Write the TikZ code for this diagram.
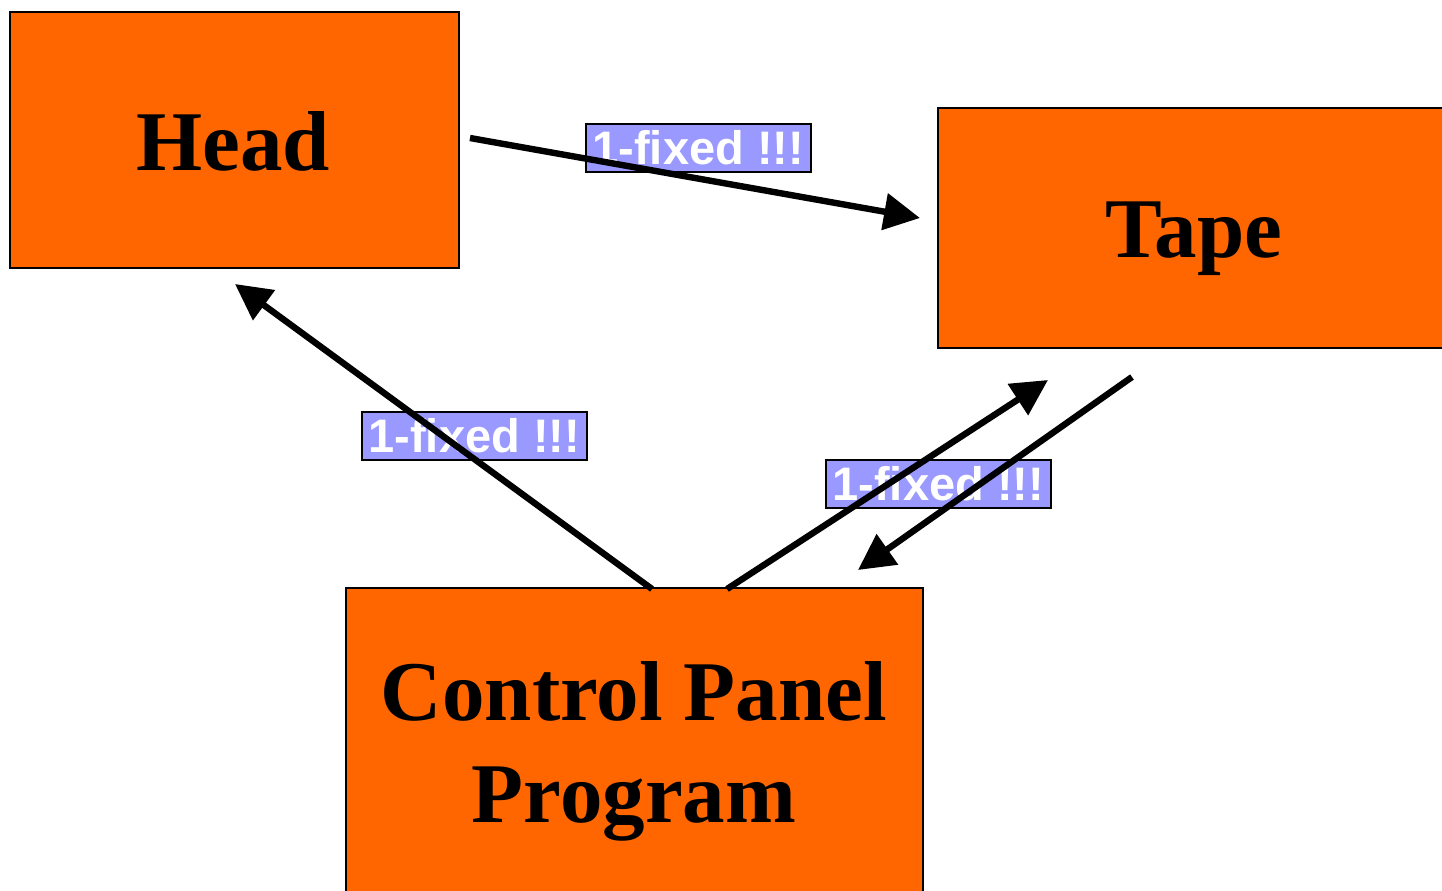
\documentclass[tikz,border=0pt]{standalone}
\usepackage{fontspec}
\setmainfont{Liberation Serif}
\newfontfamily\labelfont{Liberation Sans}
\usetikzlibrary{arrows.meta}
\definecolor{boxorange}{RGB}{255,102,0}
\definecolor{tagblue}{RGB}{153,153,255}
\tikzset{
  unitbox/.style={draw=black, line width=1pt, fill=boxorange, inner sep=0pt, anchor=north west},
  bigtext/.style={font=\bfseries\fontsize{42.5}{51}\selectfont, text=black, inner sep=0pt},
  tag/.style={draw=black, line width=0.75pt, fill=tagblue, inner sep=0pt,
    minimum width=112.5pt, minimum height=24pt, anchor=north west,
    font=\labelfont\bfseries\fontsize{23.5}{24}\selectfont, text=white},
  flow/.style={line width=3.2pt, -{Triangle[length=18pt,width=18pt]}}
}
\begin{document}
\begin{tikzpicture}[x=0.5pt,y=-0.5pt]
\useasboundingbox (0,0) rectangle (1442,890);
\clip (0,0) rectangle (1442,890);

% the three units
\node[unitbox, minimum width=224.5pt, minimum height=128pt] (head) at (9,11) {};
\node[bigtext] (headtxt) at (233,141) {Head};
\node[unitbox, minimum width=260pt, minimum height=120pt] (tape) at (937,107) {};
\node[bigtext] (tapetxt) at (1194,239) {Tape};
\node[unitbox, minimum width=288.5pt, minimum height=160pt] (ctrl) at (345,587) {};
\node[bigtext, anchor=base] (ctrltxta) at (634,720) {Control Panel};
\node[bigtext, anchor=base] (ctrltxtb) at (634,822) {Program};

% tags on the links
\node[tag] (tagA) at (585,123) {1-fixed !!!};
\node[tag] (tagB) at (361,411) {1-fixed !!!};
\node[tag] (tagC) at (825,459) {1-fixed !!!};

% link end points
\coordinate (hs) at (470,138);
\coordinate (te) at (920,218);
\coordinate (cs1) at (652,589);
\coordinate (he) at (235,284);
\coordinate (cs2) at (727,589);
\coordinate (te2) at (1048,380);
\coordinate (ts) at (1132,377);
\coordinate (ce) at (858,570);

% links
\draw[flow] (hs) -- (te);
\draw[flow] (cs1) -- (he);
\draw[flow] (cs2) -- (te2);
\draw[flow] (ts) -- (ce);
\end{tikzpicture}
\end{document}
